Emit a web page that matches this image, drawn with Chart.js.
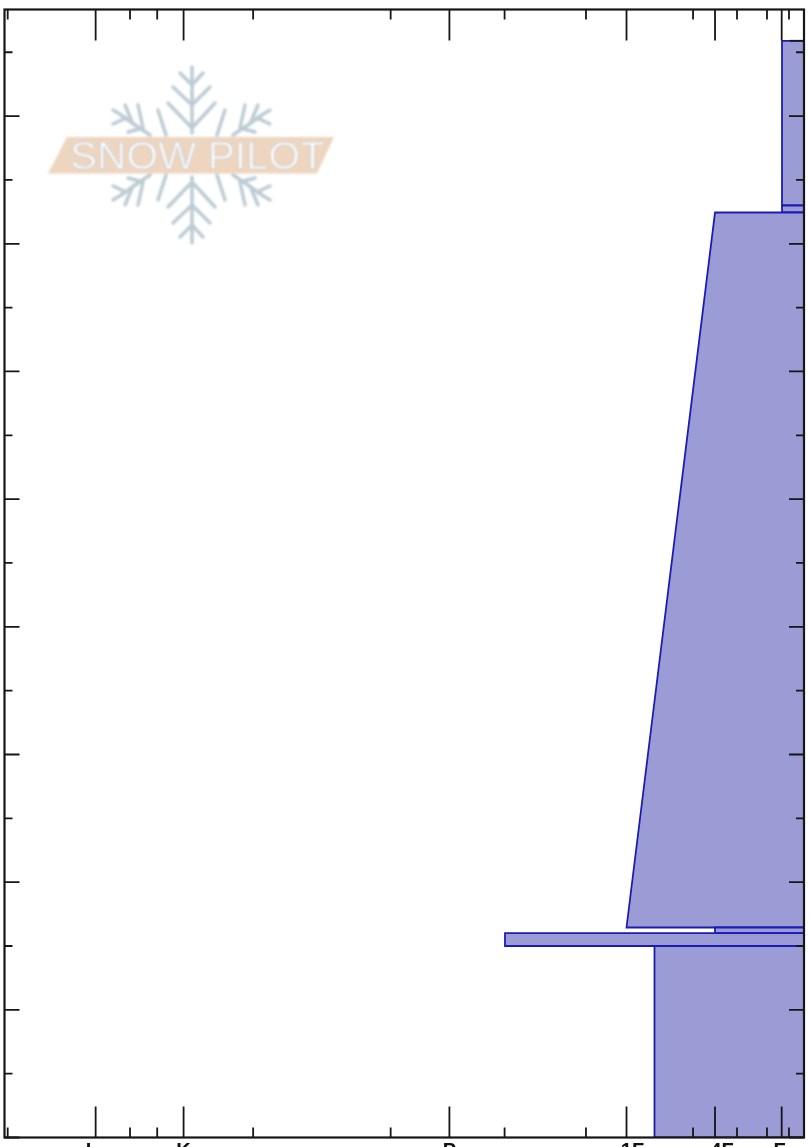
<!DOCTYPE html>
<html>
<head>
<meta charset="utf-8">
<title>Snow Pilot</title>
<style>
html, body { margin: 0; padding: 0; background: #fff; overflow: hidden; }
#wrap { position: relative; width: 809px; height: 1147px; }
#perfil { filter: blur(0.35px); }
#logo { position: absolute; left: 0; top: 0; filter: blur(0.8px); }
</style>
<script src="https://cdn.jsdelivr.net/npm/chart.js@4/dist/chart.umd.min.js"></script>
</head>
<body>
<div id="wrap">
  <canvas id="perfil" width="809" height="1147"></canvas>
  <svg id="logo" width="809" height="260" xmlns="http://www.w3.org/2000/svg">
    <defs>
      <g id="armV" fill="none" stroke="#bccbd4" stroke-width="3.5" stroke-linecap="round" stroke-linejoin="round">
        <path d="M192 67V133M180 73L192 85L203 73M173 87L192 105L210 87M168 103L192 128L215 103"/>
      </g>
      <g id="armS" fill="none" stroke="#bccbd4" stroke-width="3.5" stroke-linecap="round" stroke-linejoin="round">
        <path d="M122 116L150 135M113 110L126 118L113 124M125 105L133 124M138 105L143 128L128 132M158 110L166 135"/>
      </g>
    </defs>
    <use href="#armV"/>
    <use href="#armV" transform="translate(0,310) scale(1,-1)"/>
    <use href="#armS"/>
    <use href="#armS" transform="translate(383,0) scale(-1,1)"/>
    <use href="#armS" transform="translate(0,310) scale(1,-1)"/>
    <use href="#armS" transform="translate(383,310) scale(-1,-1)"/>
    <polygon points="67,137 334,137 317,173.5 48,173.5" fill="#eed5bf"/>
    <text x="70" y="169" font-family="'Liberation Sans'" font-size="38" fill="#ffffff" stroke="#cfcfcf" stroke-width="1"
          textLength="255" lengthAdjust="spacingAndGlyphs">SNOW PILOT</text>
  </svg>
</div>
<script>
// Dureza de mano: 0 en el borde derecho, crece hacia la izquierda
var hardLabels  = ['F', '4F', '1F', 'P', 'K', 'I'];
var hardMajor   = [2.79, 11.13, 22.2, 44.35, 77.6, 88.6];
var hardMinor   = [1.88, 4.63, 8.38, 13.88, 27.27, 37.45, 51.7, 68.9, 80.9, 84.3, 99.6];
var depthMajor  = [0, 20, 40, 60, 80, 100, 120, 140, 160];
var depthMinor  = [10, 30, 50, 70, 90, 110, 130, 150, 170];
var snowTop     = [171.8];

// Capas, de abajo hacia arriba
var layerBottom = [0, 30, 32, 32.9, 144.9, 146];
var layerTop    = [30, 32, 32.9, 144.9, 146, 171.8];
var hardBottom  = [18.7, 37.4, 11.13, 22.2, 2.75, 2.75];
var hardTop     = [18.7, 37.4, 11.13, 11.13, 2.75, 2.75];

var labelShift = { 'F': -2, '4F': 7, '1F': 6, 'P': 0, 'K': 0, 'I': -7 };

var capas = layerBottom.map(function (b, i) {
    return {
        data: [
            { x: 0, y: b },
            { x: hardBottom[i], y: b },
            { x: hardTop[i], y: layerTop[i] },
            { x: 0, y: layerTop[i] },
            { x: 0, y: b }
        ],
        showLine: true,
        tension: 0,
        fill: 'shape',
        backgroundColor: '#9b9bd6',
        borderColor: '#1c1cb4',
        borderWidth: 1.8,
        pointRadius: 0
    };
});

// Marcas hacia adentro y marco
var marco = {
    id: 'marco',
    afterDatasetsDraw: function (chart) {
        var c = chart.ctx, a = chart.chartArea, x = chart.scales.x, y = chart.scales.y;
        c.save();
        c.strokeStyle = '#161616';
        c.lineWidth = 1.8;

        function vTick(v, len) {
            var p = x.getPixelForValue(v);
            c.beginPath();
            c.moveTo(p, a.bottom); c.lineTo(p, a.bottom - len);
            c.moveTo(p, a.top);    c.lineTo(p, a.top + len);
            c.stroke();
        }
        function hTick(v, len) {
            var p = y.getPixelForValue(v);
            c.beginPath();
            c.moveTo(a.left, p);  c.lineTo(a.left + len, p);
            c.moveTo(a.right, p); c.lineTo(a.right - len, p);
            c.stroke();
        }
        hardMajor.forEach(function (v) { vTick(v, 31); });
        hardMinor.forEach(function (v) { vTick(v, 10); });
        depthMajor.forEach(function (v) { hTick(v, 15); });
        depthMinor.forEach(function (v) { hTick(v, 8); });

        snowTop.forEach(function (v) {
            var p = y.getPixelForValue(v);
            c.beginPath();
            c.moveTo(a.right, p); c.lineTo(a.right - 14, p);
            c.stroke();
        });

        c.lineWidth = 2.2;
        c.strokeRect(a.left, a.top, a.right - a.left, a.bottom - a.top);

        // Etiquetas: quedan cortadas por el borde inferior, igual que el original
        c.fillStyle = '#111';
        c.font = 'bold 20px "Liberation Sans"';
        c.textAlign = 'center';
        c.textBaseline = 'top';
        hardLabels.forEach(function (t, i) {
            c.fillText(t, x.getPixelForValue(hardMajor[i]) + labelShift[t], a.bottom + 4);
        });
        c.restore();
    }
};

function sinAltura(s) { s.height = 0; }
function sinAncho(s) { s.width = 0; }

new Chart(document.getElementById('perfil'), {
    type: 'scatter',
    data: { datasets: capas },
    options: {
        responsive: false,
        animation: false,
        layout: { padding: { left: 4.5, top: 9.5, right: 5, bottom: 9.5 } },
        plugins: { legend: { display: false }, tooltip: { enabled: false } },
        scales: {
            x: {
                type: 'linear', min: 0, max: 100, reverse: true,
                grid: { display: false }, border: { display: false },
                ticks: { display: false }, afterFit: sinAltura
            },
            y: {
                type: 'linear', min: 0, max: 176.7,
                grid: { display: false }, border: { display: false },
                ticks: { display: false }, afterFit: sinAncho
            }
        }
    },
    plugins: [marco]
});
</script>
</body>
</html>
